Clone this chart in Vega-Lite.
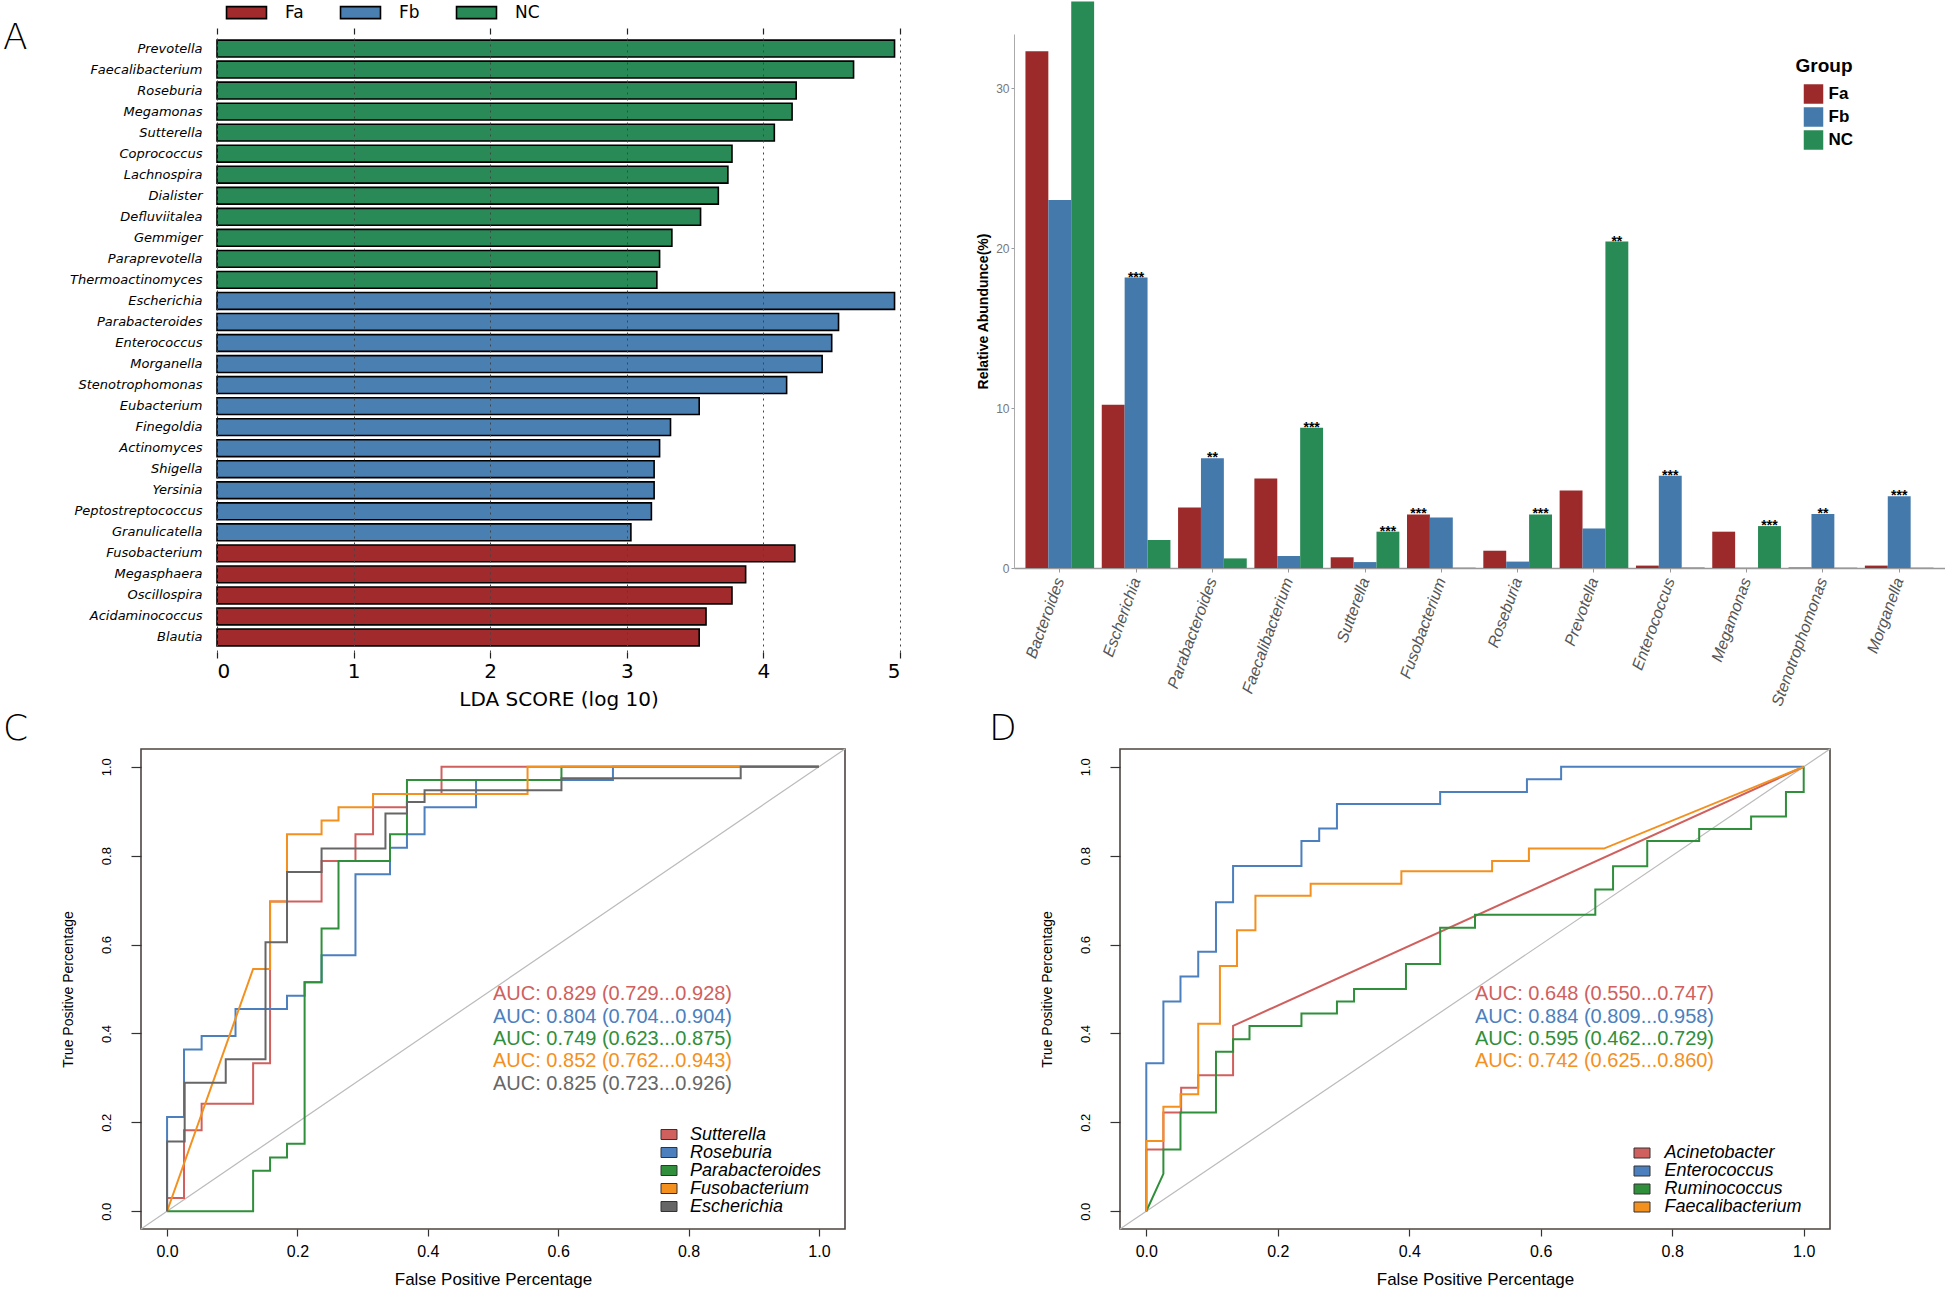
{
"$schema": "https://vega.github.io/schema/vega-lite/v6.json",
"padding": {"left": 2, "top": 0, "right": 0, "bottom": 0},
"background": "white",
"config": {"view": {"stroke": null}, "font": "Liberation Sans"},
"datasets": {
"lefse": [
{"taxon":"Prevotella","lda":4.96,"group":"NC"},
{"taxon":"Faecalibacterium","lda":4.66,"group":"NC"},
{"taxon":"Roseburia","lda":4.24,"group":"NC"},
{"taxon":"Megamonas","lda":4.21,"group":"NC"},
{"taxon":"Sutterella","lda":4.08,"group":"NC"},
{"taxon":"Coprococcus","lda":3.77,"group":"NC"},
{"taxon":"Lachnospira","lda":3.74,"group":"NC"},
{"taxon":"Dialister","lda":3.67,"group":"NC"},
{"taxon":"Defluviitalea","lda":3.54,"group":"NC"},
{"taxon":"Gemmiger","lda":3.33,"group":"NC"},
{"taxon":"Paraprevotella","lda":3.24,"group":"NC"},
{"taxon":"Thermoactinomyces","lda":3.22,"group":"NC"},
{"taxon":"Escherichia","lda":4.96,"group":"Fb"},
{"taxon":"Parabacteroides","lda":4.55,"group":"Fb"},
{"taxon":"Enterococcus","lda":4.50,"group":"Fb"},
{"taxon":"Morganella","lda":4.43,"group":"Fb"},
{"taxon":"Stenotrophomonas","lda":4.17,"group":"Fb"},
{"taxon":"Eubacterium","lda":3.53,"group":"Fb"},
{"taxon":"Finegoldia","lda":3.32,"group":"Fb"},
{"taxon":"Actinomyces","lda":3.24,"group":"Fb"},
{"taxon":"Shigella","lda":3.20,"group":"Fb"},
{"taxon":"Yersinia","lda":3.20,"group":"Fb"},
{"taxon":"Peptostreptococcus","lda":3.18,"group":"Fb"},
{"taxon":"Granulicatella","lda":3.03,"group":"Fb"},
{"taxon":"Fusobacterium","lda":4.23,"group":"Fa"},
{"taxon":"Megasphaera","lda":3.87,"group":"Fa"},
{"taxon":"Oscillospira","lda":3.77,"group":"Fa"},
{"taxon":"Acidaminococcus","lda":3.58,"group":"Fa"},
{"taxon":"Blautia","lda":3.53,"group":"Fa"}
],
"abund": [
{"genus":"Bacteroides","group":"Fa","value":32.3,"sig":""},
{"genus":"Bacteroides","group":"Fb","value":23.0,"sig":""},
{"genus":"Bacteroides","group":"NC","value":35.4,"sig":""},
{"genus":"Escherichia","group":"Fa","value":10.2,"sig":""},
{"genus":"Escherichia","group":"Fb","value":18.15,"sig":"***"},
{"genus":"Escherichia","group":"NC","value":1.75,"sig":""},
{"genus":"Parabacteroides","group":"Fa","value":3.78,"sig":""},
{"genus":"Parabacteroides","group":"Fb","value":6.86,"sig":"**"},
{"genus":"Parabacteroides","group":"NC","value":0.6,"sig":""},
{"genus":"Faecalibacterium","group":"Fa","value":5.59,"sig":""},
{"genus":"Faecalibacterium","group":"Fb","value":0.75,"sig":""},
{"genus":"Faecalibacterium","group":"NC","value":8.77,"sig":"***"},
{"genus":"Sutterella","group":"Fa","value":0.67,"sig":""},
{"genus":"Sutterella","group":"Fb","value":0.37,"sig":""},
{"genus":"Sutterella","group":"NC","value":2.27,"sig":"***"},
{"genus":"Fusobacterium","group":"Fa","value":3.35,"sig":"***"},
{"genus":"Fusobacterium","group":"Fb","value":3.16,"sig":""},
{"genus":"Fusobacterium","group":"NC","value":0.02,"sig":""},
{"genus":"Roseburia","group":"Fa","value":1.08,"sig":""},
{"genus":"Roseburia","group":"Fb","value":0.4,"sig":""},
{"genus":"Roseburia","group":"NC","value":3.35,"sig":"***"},
{"genus":"Prevotella","group":"Fa","value":4.84,"sig":""},
{"genus":"Prevotella","group":"Fb","value":2.47,"sig":""},
{"genus":"Prevotella","group":"NC","value":20.4,"sig":"**"},
{"genus":"Enterococcus","group":"Fa","value":0.15,"sig":""},
{"genus":"Enterococcus","group":"Fb","value":5.76,"sig":"***"},
{"genus":"Enterococcus","group":"NC","value":0.03,"sig":""},
{"genus":"Megamonas","group":"Fa","value":2.27,"sig":""},
{"genus":"Megamonas","group":"Fb","value":0.02,"sig":""},
{"genus":"Megamonas","group":"NC","value":2.62,"sig":"***"},
{"genus":"Stenotrophomonas","group":"Fa","value":0.03,"sig":""},
{"genus":"Stenotrophomonas","group":"Fb","value":3.37,"sig":"**"},
{"genus":"Stenotrophomonas","group":"NC","value":0.02,"sig":""},
{"genus":"Morganella","group":"Fa","value":0.15,"sig":""},
{"genus":"Morganella","group":"Fb","value":4.49,"sig":"***"},
{"genus":"Morganella","group":"NC","value":0.02,"sig":""}
],
"rocC": [
{"g":"Sutterella","i":0,"x":0,"y":0},{"g":"Sutterella","i":1,"x":0,"y":0.03},{"g":"Sutterella","i":2,"x":0.026,"y":0.03},{"g":"Sutterella","i":3,"x":0.026,"y":0.182},{"g":"Sutterella","i":4,"x":0.053,"y":0.182},{"g":"Sutterella","i":5,"x":0.053,"y":0.242},{"g":"Sutterella","i":6,"x":0.132,"y":0.242},{"g":"Sutterella","i":7,"x":0.132,"y":0.333},{"g":"Sutterella","i":8,"x":0.158,"y":0.333},{"g":"Sutterella","i":9,"x":0.158,"y":0.697},{"g":"Sutterella","i":10,"x":0.237,"y":0.697},{"g":"Sutterella","i":11,"x":0.237,"y":0.788},{"g":"Sutterella","i":12,"x":0.289,"y":0.788},{"g":"Sutterella","i":13,"x":0.289,"y":0.848},{"g":"Sutterella","i":14,"x":0.316,"y":0.848},{"g":"Sutterella","i":15,"x":0.316,"y":0.909},{"g":"Sutterella","i":16,"x":0.368,"y":0.909},{"g":"Sutterella","i":17,"x":0.368,"y":0.939},{"g":"Sutterella","i":18,"x":0.421,"y":0.939},{"g":"Sutterella","i":19,"x":0.421,"y":1},{"g":"Sutterella","i":20,"x":1,"y":1},
{"g":"Roseburia","i":0,"x":0,"y":0},{"g":"Roseburia","i":1,"x":0,"y":0.212},{"g":"Roseburia","i":2,"x":0.026,"y":0.212},{"g":"Roseburia","i":3,"x":0.026,"y":0.364},{"g":"Roseburia","i":4,"x":0.053,"y":0.364},{"g":"Roseburia","i":5,"x":0.053,"y":0.394},{"g":"Roseburia","i":6,"x":0.105,"y":0.394},{"g":"Roseburia","i":7,"x":0.105,"y":0.455},{"g":"Roseburia","i":8,"x":0.184,"y":0.455},{"g":"Roseburia","i":9,"x":0.184,"y":0.485},{"g":"Roseburia","i":10,"x":0.211,"y":0.485},{"g":"Roseburia","i":11,"x":0.211,"y":0.515},{"g":"Roseburia","i":12,"x":0.237,"y":0.515},{"g":"Roseburia","i":13,"x":0.237,"y":0.576},{"g":"Roseburia","i":14,"x":0.289,"y":0.576},{"g":"Roseburia","i":15,"x":0.289,"y":0.758},{"g":"Roseburia","i":16,"x":0.342,"y":0.758},{"g":"Roseburia","i":17,"x":0.342,"y":0.818},{"g":"Roseburia","i":18,"x":0.368,"y":0.818},{"g":"Roseburia","i":19,"x":0.368,"y":0.848},{"g":"Roseburia","i":20,"x":0.395,"y":0.848},{"g":"Roseburia","i":21,"x":0.395,"y":0.909},{"g":"Roseburia","i":22,"x":0.474,"y":0.909},{"g":"Roseburia","i":23,"x":0.474,"y":0.97},{"g":"Roseburia","i":24,"x":0.684,"y":0.97},{"g":"Roseburia","i":25,"x":0.684,"y":1},{"g":"Roseburia","i":26,"x":1,"y":1},
{"g":"Parabacteroides","i":0,"x":0,"y":0},{"g":"Parabacteroides","i":1,"x":0.132,"y":0},{"g":"Parabacteroides","i":2,"x":0.132,"y":0.091},{"g":"Parabacteroides","i":3,"x":0.158,"y":0.091},{"g":"Parabacteroides","i":4,"x":0.158,"y":0.121},{"g":"Parabacteroides","i":5,"x":0.184,"y":0.121},{"g":"Parabacteroides","i":6,"x":0.184,"y":0.152},{"g":"Parabacteroides","i":7,"x":0.211,"y":0.152},{"g":"Parabacteroides","i":8,"x":0.211,"y":0.515},{"g":"Parabacteroides","i":9,"x":0.237,"y":0.515},{"g":"Parabacteroides","i":10,"x":0.237,"y":0.636},{"g":"Parabacteroides","i":11,"x":0.263,"y":0.636},{"g":"Parabacteroides","i":12,"x":0.263,"y":0.788},{"g":"Parabacteroides","i":13,"x":0.342,"y":0.788},{"g":"Parabacteroides","i":14,"x":0.342,"y":0.848},{"g":"Parabacteroides","i":15,"x":0.368,"y":0.848},{"g":"Parabacteroides","i":16,"x":0.368,"y":0.97},{"g":"Parabacteroides","i":17,"x":0.605,"y":0.97},{"g":"Parabacteroides","i":18,"x":0.605,"y":1},{"g":"Parabacteroides","i":19,"x":1,"y":1},
{"g":"Fusobacterium","i":0,"x":0,"y":0},{"g":"Fusobacterium","i":1,"x":0.132,"y":0.545},{"g":"Fusobacterium","i":2,"x":0.158,"y":0.545},{"g":"Fusobacterium","i":3,"x":0.158,"y":0.697},{"g":"Fusobacterium","i":4,"x":0.184,"y":0.697},{"g":"Fusobacterium","i":5,"x":0.184,"y":0.848},{"g":"Fusobacterium","i":6,"x":0.237,"y":0.848},{"g":"Fusobacterium","i":7,"x":0.237,"y":0.879},{"g":"Fusobacterium","i":8,"x":0.263,"y":0.879},{"g":"Fusobacterium","i":9,"x":0.263,"y":0.909},{"g":"Fusobacterium","i":10,"x":0.316,"y":0.909},{"g":"Fusobacterium","i":11,"x":0.316,"y":0.939},{"g":"Fusobacterium","i":12,"x":0.553,"y":0.939},{"g":"Fusobacterium","i":13,"x":0.553,"y":1},{"g":"Fusobacterium","i":14,"x":1,"y":1},
{"g":"Escherichia","i":0,"x":0,"y":0},{"g":"Escherichia","i":1,"x":0,"y":0.157},{"g":"Escherichia","i":2,"x":0.027,"y":0.157},{"g":"Escherichia","i":3,"x":0.027,"y":0.289},{"g":"Escherichia","i":4,"x":0.09,"y":0.289},{"g":"Escherichia","i":5,"x":0.09,"y":0.342},{"g":"Escherichia","i":6,"x":0.151,"y":0.342},{"g":"Escherichia","i":7,"x":0.151,"y":0.605},{"g":"Escherichia","i":8,"x":0.184,"y":0.605},{"g":"Escherichia","i":9,"x":0.184,"y":0.763},{"g":"Escherichia","i":10,"x":0.237,"y":0.763},{"g":"Escherichia","i":11,"x":0.237,"y":0.816},{"g":"Escherichia","i":12,"x":0.335,"y":0.816},{"g":"Escherichia","i":13,"x":0.335,"y":0.895},{"g":"Escherichia","i":14,"x":0.368,"y":0.895},{"g":"Escherichia","i":15,"x":0.368,"y":0.921},{"g":"Escherichia","i":16,"x":0.395,"y":0.921},{"g":"Escherichia","i":17,"x":0.395,"y":0.947},{"g":"Escherichia","i":18,"x":0.605,"y":0.947},{"g":"Escherichia","i":19,"x":0.605,"y":0.974},{"g":"Escherichia","i":20,"x":0.88,"y":0.974},{"g":"Escherichia","i":21,"x":0.88,"y":1},{"g":"Escherichia","i":22,"x":1,"y":1}
],
"rocD": [
{"g":"Acinetobacter","i":0,"x":0,"y":0},{"g":"Acinetobacter","i":1,"x":0,"y":0.139},{"g":"Acinetobacter","i":2,"x":0.026,"y":0.139},{"g":"Acinetobacter","i":3,"x":0.026,"y":0.222},{"g":"Acinetobacter","i":4,"x":0.053,"y":0.222},{"g":"Acinetobacter","i":5,"x":0.053,"y":0.278},{"g":"Acinetobacter","i":6,"x":0.079,"y":0.278},{"g":"Acinetobacter","i":7,"x":0.079,"y":0.306},{"g":"Acinetobacter","i":8,"x":0.132,"y":0.306},{"g":"Acinetobacter","i":9,"x":0.132,"y":0.417},{"g":"Acinetobacter","i":10,"x":1,"y":1},
{"g":"Enterococcus","i":0,"x":0,"y":0},{"g":"Enterococcus","i":1,"x":0,"y":0.333},{"g":"Enterococcus","i":2,"x":0.026,"y":0.333},{"g":"Enterococcus","i":3,"x":0.026,"y":0.472},{"g":"Enterococcus","i":4,"x":0.052,"y":0.472},{"g":"Enterococcus","i":5,"x":0.052,"y":0.528},{"g":"Enterococcus","i":6,"x":0.079,"y":0.528},{"g":"Enterococcus","i":7,"x":0.079,"y":0.584},{"g":"Enterococcus","i":8,"x":0.106,"y":0.584},{"g":"Enterococcus","i":9,"x":0.106,"y":0.695},{"g":"Enterococcus","i":10,"x":0.132,"y":0.695},{"g":"Enterococcus","i":11,"x":0.132,"y":0.777},{"g":"Enterococcus","i":12,"x":0.236,"y":0.777},{"g":"Enterococcus","i":13,"x":0.236,"y":0.833},{"g":"Enterococcus","i":14,"x":0.263,"y":0.833},{"g":"Enterococcus","i":15,"x":0.263,"y":0.861},{"g":"Enterococcus","i":16,"x":0.29,"y":0.861},{"g":"Enterococcus","i":17,"x":0.29,"y":0.916},{"g":"Enterococcus","i":18,"x":0.447,"y":0.916},{"g":"Enterococcus","i":19,"x":0.447,"y":0.943},{"g":"Enterococcus","i":20,"x":0.579,"y":0.943},{"g":"Enterococcus","i":21,"x":0.579,"y":0.972},{"g":"Enterococcus","i":22,"x":0.631,"y":0.972},{"g":"Enterococcus","i":23,"x":0.631,"y":1},{"g":"Enterococcus","i":24,"x":1,"y":1},
{"g":"Ruminococcus","i":0,"x":0,"y":0},{"g":"Ruminococcus","i":1,"x":0.026,"y":0.084},{"g":"Ruminococcus","i":2,"x":0.026,"y":0.139},{"g":"Ruminococcus","i":3,"x":0.052,"y":0.139},{"g":"Ruminococcus","i":4,"x":0.052,"y":0.222},{"g":"Ruminococcus","i":5,"x":0.106,"y":0.222},{"g":"Ruminococcus","i":6,"x":0.106,"y":0.359},{"g":"Ruminococcus","i":7,"x":0.132,"y":0.359},{"g":"Ruminococcus","i":8,"x":0.132,"y":0.387},{"g":"Ruminococcus","i":9,"x":0.157,"y":0.387},{"g":"Ruminococcus","i":10,"x":0.157,"y":0.417},{"g":"Ruminococcus","i":11,"x":0.236,"y":0.417},{"g":"Ruminococcus","i":12,"x":0.236,"y":0.445},{"g":"Ruminococcus","i":13,"x":0.29,"y":0.445},{"g":"Ruminococcus","i":14,"x":0.29,"y":0.472},{"g":"Ruminococcus","i":15,"x":0.316,"y":0.472},{"g":"Ruminococcus","i":16,"x":0.316,"y":0.5},{"g":"Ruminococcus","i":17,"x":0.395,"y":0.5},{"g":"Ruminococcus","i":18,"x":0.395,"y":0.556},{"g":"Ruminococcus","i":19,"x":0.447,"y":0.556},{"g":"Ruminococcus","i":20,"x":0.447,"y":0.638},{"g":"Ruminococcus","i":21,"x":0.5,"y":0.638},{"g":"Ruminococcus","i":22,"x":0.5,"y":0.667},{"g":"Ruminococcus","i":23,"x":0.683,"y":0.667},{"g":"Ruminococcus","i":24,"x":0.683,"y":0.724},{"g":"Ruminococcus","i":25,"x":0.71,"y":0.724},{"g":"Ruminococcus","i":26,"x":0.71,"y":0.776},{"g":"Ruminococcus","i":27,"x":0.762,"y":0.776},{"g":"Ruminococcus","i":28,"x":0.762,"y":0.833},{"g":"Ruminococcus","i":29,"x":0.841,"y":0.833},{"g":"Ruminococcus","i":30,"x":0.841,"y":0.86},{"g":"Ruminococcus","i":31,"x":0.92,"y":0.86},{"g":"Ruminococcus","i":32,"x":0.92,"y":0.888},{"g":"Ruminococcus","i":33,"x":0.973,"y":0.888},{"g":"Ruminococcus","i":34,"x":0.973,"y":0.943},{"g":"Ruminococcus","i":35,"x":1,"y":0.943},{"g":"Ruminococcus","i":36,"x":1,"y":1},
{"g":"Faecalibacterium","i":0,"x":0,"y":0},{"g":"Faecalibacterium","i":1,"x":0,"y":0.158},{"g":"Faecalibacterium","i":2,"x":0.026,"y":0.158},{"g":"Faecalibacterium","i":3,"x":0.026,"y":0.235},{"g":"Faecalibacterium","i":4,"x":0.052,"y":0.235},{"g":"Faecalibacterium","i":5,"x":0.052,"y":0.263},{"g":"Faecalibacterium","i":6,"x":0.079,"y":0.263},{"g":"Faecalibacterium","i":7,"x":0.079,"y":0.422},{"g":"Faecalibacterium","i":8,"x":0.112,"y":0.422},{"g":"Faecalibacterium","i":9,"x":0.112,"y":0.552},{"g":"Faecalibacterium","i":10,"x":0.138,"y":0.552},{"g":"Faecalibacterium","i":11,"x":0.138,"y":0.632},{"g":"Faecalibacterium","i":12,"x":0.166,"y":0.632},{"g":"Faecalibacterium","i":13,"x":0.166,"y":0.71},{"g":"Faecalibacterium","i":14,"x":0.25,"y":0.71},{"g":"Faecalibacterium","i":15,"x":0.25,"y":0.737},{"g":"Faecalibacterium","i":16,"x":0.388,"y":0.737},{"g":"Faecalibacterium","i":17,"x":0.388,"y":0.765},{"g":"Faecalibacterium","i":18,"x":0.526,"y":0.765},{"g":"Faecalibacterium","i":19,"x":0.526,"y":0.788},{"g":"Faecalibacterium","i":20,"x":0.582,"y":0.788},{"g":"Faecalibacterium","i":21,"x":0.582,"y":0.816},{"g":"Faecalibacterium","i":22,"x":0.696,"y":0.816},{"g":"Faecalibacterium","i":23,"x":1,"y":1}
],
"aucC": [
{"genus":"Sutterella","x":0.5,"y":0.489,"t":"AUC: 0.829 (0.729...0.928)"},
{"genus":"Roseburia","x":0.5,"y":0.438,"t":"AUC: 0.804 (0.704...0.904)"},
{"genus":"Parabacteroides","x":0.5,"y":0.387,"t":"AUC: 0.749 (0.623...0.875)"},
{"genus":"Fusobacterium","x":0.5,"y":0.337,"t":"AUC: 0.852 (0.762...0.943)"},
{"genus":"Escherichia","x":0.5,"y":0.287,"t":"AUC: 0.825 (0.723...0.926)"}
],
"aucD": [
{"genus":"Acinetobacter","x":0.5,"y":0.489,"t":"AUC: 0.648 (0.550...0.747)"},
{"genus":"Enterococcus","x":0.5,"y":0.438,"t":"AUC: 0.884 (0.809...0.958)"},
{"genus":"Ruminococcus","x":0.5,"y":0.387,"t":"AUC: 0.595 (0.462...0.729)"},
{"genus":"Faecalibacterium","x":0.5,"y":0.337,"t":"AUC: 0.742 (0.625...0.860)"}
]
},
"spacing": 1,
"resolve": {"scale": {"x": "independent", "y": "independent", "color": "independent", "stroke": "independent"}, "legend": {"color": "independent"}},
"vconcat": [
{
"spacing": 75,
"resolve": {"scale": {"x": "independent", "y": "independent", "color": "independent"}, "legend": {"color": "independent"}},
"hconcat": [
{
"width": 759, "height": 618,
"resolve": {"axis": {"x": "independent"}},
"layer": [
{
"data": {"name": "lefse"},
"mark": {"type": "bar", "stroke": "black", "strokeWidth": 1.6},
"encoding": {
"y": {"field": "taxon", "type": "nominal",
"sort": ["Prevotella","Faecalibacterium","Roseburia","Megamonas","Sutterella","Coprococcus","Lachnospira","Dialister","Defluviitalea","Gemmiger","Paraprevotella","Thermoactinomyces","Escherichia","Parabacteroides","Enterococcus","Morganella","Stenotrophomonas","Eubacterium","Finegoldia","Actinomyces","Shigella","Yersinia","Peptostreptococcus","Granulicatella","Fusobacterium","Megasphaera","Oscillospira","Acidaminococcus","Blautia"],
"scale": {"paddingInner": 0.2, "paddingOuter": 0.29},
"axis": {"title": null, "ticks": false, "tickSize": 0, "domain": false, "labelPadding": -61, "labelFont": "DejaVu Sans", "labelFontStyle": "italic", "labelFontSize": 13, "labelColor": "black"}},
"x": {"field": "lda", "type": "quantitative", "scale": {"domain": [0, 5], "nice": false, "range": [76, 759]},
"axis": {"orient": "bottom", "values": [0,1,2,3,4,5], "grid": true, "gridDash": [2,4], "gridColor": "#444444", "gridWidth": 1, "domain": false, "tickSize": 6, "tickColor": "#222222", "tickWidth": 1.2, "labelFont": "DejaVu Sans", "labelFontSize": 20, "labelPadding": 3, "labelColor": "black", "title": "LDA SCORE (log 10)", "titleX": 417.5, "titleFont": "DejaVu Sans", "titleFontSize": 20, "titleFontWeight": "normal", "titleColor": "black", "titlePadding": 8, "zindex": 1}},
"color": {"field": "group", "type": "nominal",
"scale": {"domain": ["Fa","Fb","NC"], "range": ["#a02a2c","#4a7fb1","#2a8a57"]},
"legend": {"orient": "none", "legendX": 93, "legendY": -34, "direction": "horizontal", "title": null, "padding": 4, "fillColor": "white", "symbolType": "M-3.33,-1H3.33V1H-3.33Z", "symbolSize": 144, "symbolStrokeColor": "black", "symbolStrokeWidth": 1.6, "symbolOpacity": 1, "labelFont": "DejaVu Sans", "labelFontSize": 17, "labelColor": "black", "labelOffset": 30, "columnPadding": 33}}
}
},
{
"data": {"values": [{"x": -1.5666, "taxon": "Prevotella", "t": "A"}]},
"mark": {"type": "text", "align": "left", "baseline": "alphabetic", "font": "DejaVu Sans", "fontSize": 36, "fontWeight": 200, "color": "black"},
"encoding": {
"x": {"field": "x", "type": "quantitative", "axis": {"orient": "top", "values": [0,1,2,3,4,5], "labels": false, "title": null, "grid": false, "domain": false, "tickSize": 6, "tickColor": "#222222", "tickWidth": 1.2}},
"y": {"field": "taxon", "type": "nominal", "sort": ["Prevotella","Faecalibacterium","Roseburia","Megamonas","Sutterella","Coprococcus","Lachnospira","Dialister","Defluviitalea","Gemmiger","Paraprevotella","Thermoactinomyces","Escherichia","Parabacteroides","Enterococcus","Morganella","Stenotrophomonas","Eubacterium","Finegoldia","Actinomyces","Shigella","Yersinia","Peptostreptococcus","Granulicatella","Fusobacterium","Megasphaera","Oscillospira","Acidaminococcus","Blautia"]},
"text": {"field": "t"}
}
}
]
},
{
"width": 931, "height": 534,
"data": {"name": "abund"},
"layer": [
{
"mark": {"type": "bar"},
"encoding": {
"x": {"field": "genus", "type": "nominal",
"sort": ["Bacteroides","Escherichia","Parabacteroides","Faecalibacterium","Sutterella","Fusobacterium","Roseburia","Prevotella","Enterococcus","Megamonas","Stenotrophomonas","Morganella"],
"scale": {"paddingInner": 0, "paddingOuter": 0.1},
"axis": {"title": null, "labelAngle": -70, "labelAlign": "right", "labelBaseline": "middle", "labelFont": "Liberation Sans", "labelFontStyle": "italic", "labelFontSize": 16, "labelColor": "#555555", "labelPadding": 6, "tickSize": 4, "tickColor": "#999999", "domainColor": "#999999", "domainWidth": 1.5}},
"xOffset": {"field": "group", "type": "nominal", "scale": {"domain": ["Fa","Fb","NC"], "paddingInner": 0, "paddingOuter": 0.1667}},
"y": {"field": "value", "type": "quantitative", "scale": {"domain": [0, 33.375], "nice": false},
"axis": {"values": [0,10,20,30], "grid": false, "title": "Relative Abundunce(%)", "titleFont": "Liberation Sans", "titleFontSize": 14, "titleFontWeight": "bold", "titleColor": "black", "titleX": -31, "titleY": 277, "titleBaseline": "middle", "titleAlign": "center", "titleAngle": 270, "labelFont": "Liberation Sans", "labelFontSize": 12, "labelColor": "#777777", "tickSize": 3, "tickColor": "#999999", "domainColor": "#aaaaaa", "domainWidth": 1, "labelPadding": 2}},
"color": {"field": "group", "type": "nominal",
"scale": {"domain": ["Fa","Fb","NC"], "range": ["#9c2a2b","#4479ab","#288a55"]},
"legend": {"orient": "none", "legendX": 781.5, "legendY": 23, "title": "Group", "titleFont": "Liberation Sans", "titleFontSize": 19, "titleFontWeight": "bold", "titleColor": "black", "titlePadding": 8, "labelFont": "Liberation Sans", "labelFontSize": 17, "labelFontWeight": "bold", "labelColor": "black", "symbolType": "square", "symbolSize": 380, "symbolStrokeWidth": 0, "symbolOpacity": 1, "symbolOffset": 8, "rowPadding": 3, "labelOffset": 5}}
}
},
{
"transform": [{"filter": "datum.sig != ''"}],
"mark": {"type": "text", "baseline": "alphabetic", "dy": 4, "font": "Liberation Sans", "fontSize": 14, "fontWeight": "bold", "color": "black"},
"encoding": {
"x": {"field": "genus", "type": "nominal", "sort": ["Bacteroides","Escherichia","Parabacteroides","Faecalibacterium","Sutterella","Fusobacterium","Roseburia","Prevotella","Enterococcus","Megamonas","Stenotrophomonas","Morganella"]},
"xOffset": {"field": "group", "type": "nominal"},
"y": {"field": "value", "type": "quantitative"},
"text": {"field": "sig"}
}
}
]
}
]
},
{
"spacing": 139,
"resolve": {"scale": {"x": "independent", "y": "independent", "color": "independent", "stroke": "independent"}, "legend": {"color": "independent"}},
"hconcat": [
{
"width": 704, "height": 480,
"view": {"stroke": "#4d4642", "strokeWidth": 1.6},
"layer": [
{
"data": {"values": [{"x": -0.04, "y": -0.04}, {"x": 1.04, "y": 1.04}]},
"mark": {"type": "line", "color": "#bbbbbb", "strokeWidth": 1.2},
"encoding": {
"x": {"field": "x", "type": "quantitative", "scale": {"domain": [-0.04, 1.04], "nice": false, "zero": false},
"axis": {"values": [0,0.2,0.4,0.6,0.8,1], "format": ".1f", "title": "False Positive Percentage", "grid": false, "domain": false, "tickSize": 7, "tickColor": "#333333", "tickWidth": 1.2, "labelFont": "Liberation Sans", "labelFontSize": 16, "labelColor": "black", "labelPadding": 7, "titleFont": "Liberation Sans", "titleFontSize": 17, "titleFontWeight": "normal", "titleColor": "black", "titlePadding": 12}},
"y": {"field": "y", "type": "quantitative", "scale": {"domain": [-0.04, 1.04], "nice": false, "zero": false},
"axis": {"values": [0,0.2,0.4,0.6,0.8,1], "format": ".1f", "title": "True Positive Percentage", "grid": false, "domain": false, "tickSize": 10, "tickColor": "#333333", "tickWidth": 1.2, "labelFont": "Liberation Sans", "labelFontSize": 13, "labelColor": "black", "labelAngle": 270, "labelAlign": "center", "labelBaseline": "bottom", "labelPadding": 18, "titleFont": "Liberation Sans", "titleFontSize": 14, "titleFontWeight": "normal", "titleColor": "black", "titlePadding": 25}}
}
},
{
"data": {"name": "rocC"},
"mark": {"type": "line", "strokeWidth": 2},
"encoding": {
"x": {"field": "x", "type": "quantitative"},
"y": {"field": "y", "type": "quantitative"},
"stroke": {"field": "g", "type": "nominal", "scale": {"range": ["#666666","#f4901e","#2f8f3a","#4b7fbe","#d0605e"]}, "legend": null},
"order": {"field": "i", "type": "quantitative"}
}
},
{
"data": {"name": "aucC"},
"mark": {"type": "text", "align": "left", "baseline": "middle", "font": "Liberation Sans", "fontSize": 20},
"encoding": {
"x": {"field": "x", "type": "quantitative"},
"y": {"field": "y", "type": "quantitative"},
"text": {"field": "t"},
"color": {"field": "genus", "type": "nominal", "scale": {"domain": ["Sutterella","Roseburia","Parabacteroides","Fusobacterium","Escherichia"], "range": ["#d0605e","#4b7fbe","#2f8f3a","#f4901e","#666666"]},
"legend": {"orient": "none", "legendX": 519, "legendY": 376.5, "title": null, "symbolType": "M-1.6,-1H1.6V1H-1.6Z", "symbolSize": 100, "symbolStrokeColor": "#333333", "symbolStrokeWidth": 1, "symbolOpacity": 1, "labelFont": "Liberation Sans", "labelFontStyle": "italic", "labelFontSize": 18, "labelColor": "black", "labelOffset": 12, "rowPadding": 0}}
}
},
{
"data": {"values": [{"x": -0.2517, "y": 1.1233, "t": "C"}]},
"mark": {"type": "text", "align": "left", "baseline": "top", "font": "DejaVu Sans", "fontSize": 36, "fontWeight": 200, "color": "black"},
"encoding": {
"x": {"field": "x", "type": "quantitative"},
"y": {"field": "y", "type": "quantitative"},
"text": {"field": "t"}
}
}
]
},
{
"width": 710, "height": 480,
"view": {"stroke": "#4d4642", "strokeWidth": 1.6},
"layer": [
{
"data": {"values": [{"x": -0.04, "y": -0.04}, {"x": 1.04, "y": 1.04}]},
"mark": {"type": "line", "color": "#bbbbbb", "strokeWidth": 1.2},
"encoding": {
"x": {"field": "x", "type": "quantitative", "scale": {"domain": [-0.04, 1.04], "nice": false, "zero": false},
"axis": {"values": [0,0.2,0.4,0.6,0.8,1], "format": ".1f", "title": "False Positive Percentage", "grid": false, "domain": false, "tickSize": 7, "tickColor": "#333333", "tickWidth": 1.2, "labelFont": "Liberation Sans", "labelFontSize": 16, "labelColor": "black", "labelPadding": 7, "titleFont": "Liberation Sans", "titleFontSize": 17, "titleFontWeight": "normal", "titleColor": "black", "titlePadding": 12}},
"y": {"field": "y", "type": "quantitative", "scale": {"domain": [-0.04, 1.04], "nice": false, "zero": false},
"axis": {"values": [0,0.2,0.4,0.6,0.8,1], "format": ".1f", "title": "True Positive Percentage", "grid": false, "domain": false, "tickSize": 10, "tickColor": "#333333", "tickWidth": 1.2, "labelFont": "Liberation Sans", "labelFontSize": 13, "labelColor": "black", "labelAngle": 270, "labelAlign": "center", "labelBaseline": "bottom", "labelPadding": 18, "titleFont": "Liberation Sans", "titleFontSize": 14, "titleFontWeight": "normal", "titleColor": "black", "titlePadding": 25}}
}
},
{
"data": {"name": "rocD"},
"mark": {"type": "line", "strokeWidth": 2},
"encoding": {
"x": {"field": "x", "type": "quantitative"},
"y": {"field": "y", "type": "quantitative"},
"stroke": {"field": "g", "type": "nominal", "scale": {"range": ["#d0605e","#4b7fbe","#f4901e","#2f8f3a"]}, "legend": null},
"order": {"field": "i", "type": "quantitative"}
}
},
{
"data": {"name": "aucD"},
"mark": {"type": "text", "align": "left", "baseline": "middle", "font": "Liberation Sans", "fontSize": 20},
"encoding": {
"x": {"field": "x", "type": "quantitative"},
"y": {"field": "y", "type": "quantitative"},
"text": {"field": "t"},
"color": {"field": "genus", "type": "nominal", "scale": {"domain": ["Acinetobacter","Enterococcus","Ruminococcus","Faecalibacterium"], "range": ["#d0605e","#4b7fbe","#2f8f3a","#f4901e"]},
"legend": {"orient": "none", "legendX": 513, "legendY": 395, "title": null, "symbolType": "M-1.6,-1H1.6V1H-1.6Z", "symbolSize": 100, "symbolStrokeColor": "#333333", "symbolStrokeWidth": 1, "symbolOpacity": 1, "labelFont": "Liberation Sans", "labelFontStyle": "italic", "labelFontSize": 18, "labelColor": "black", "labelOffset": 13.5, "rowPadding": 0}}
}
},
{
"data": {"values": [{"x": -0.2393, "y": 1.1233, "t": "D"}]},
"mark": {"type": "text", "align": "left", "baseline": "top", "font": "DejaVu Sans", "fontSize": 36, "fontWeight": 200, "color": "black"},
"encoding": {
"x": {"field": "x", "type": "quantitative"},
"y": {"field": "y", "type": "quantitative"},
"text": {"field": "t"}
}
}
]
}
]
}
]
}
